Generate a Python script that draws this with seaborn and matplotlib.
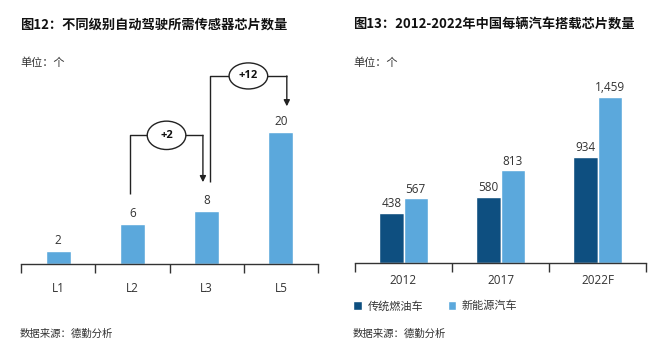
import matplotlib
matplotlib.use("Agg")
import matplotlib.pyplot as plt
from matplotlib.patches import Ellipse
from matplotlib.ticker import FixedLocator
import seaborn as sns
import pandas as pd

# ---- data ----
levels = ["L1", "L2", "L3", "L5"]
sensor_chips = [2, 6, 8, 20]

years = ["2012", "2017", "2022F"]
series_names = ["传统燃油车", "新能源汽车"]
fuel_chips = [438, 580, 934]
nev_chips = [567, 813, 1459]

title_left = "图12：不同级别自动驾驶所需传感器芯片数量"
title_right = "图13：2012-2022年中国每辆汽车搭载芯片数量"
unit_text = "单位：个"
source_text = "数据来源：德勤分析"

DARK = "#0e4f80"
LIGHT = "#5ba8dc"
TXT = "#333333"

sns.set_theme(style="white")
plt.rcParams["font.family"] = ["Open Sans", "Noto Sans CJK SC", "DejaVu Sans"]

W, H = 665, 357
fig = plt.figure(figsize=(W / 100, H / 100), dpi=100)


def px_axes(x0, y0, x1, y1):
    return fig.add_axes([x0 / W, 1 - y1 / H, (x1 - x0) / W, (y1 - y0) / H])


def style_axis(ax, n, pad):
    for s in ["top", "right", "left"]:
        ax.spines[s].set_visible(False)
    ax.spines["bottom"].set_color(TXT)
    ax.spines["bottom"].set_linewidth(1.0)
    ax.set_yticks([])
    ax.set_xlim(-0.5, n - 0.5)
    ax.xaxis.set_minor_locator(FixedLocator([i - 0.5 for i in range(n + 1)]))
    ax.tick_params(axis="x", which="minor", bottom=True, length=6.5, width=1.0,
                   color=TXT, direction="out")
    ax.tick_params(axis="x", which="major", bottom=False, length=0, pad=pad,
                   labelsize=8.5, labelcolor=TXT)
    ax.set_xlabel("")
    ax.set_ylabel("")


# ---- left chart ----
axL = px_axes(21, 70, 318, 264)
dfL = pd.DataFrame({"level": levels, "chips": sensor_chips})
sns.barplot(data=dfL, x="level", y="chips", color=LIGHT, width=0.34,
            saturation=1, ax=axL)
axL.set_ylim(0, 29.4)
style_axis(axL, len(levels), 13)
for c in axL.containers:
    axL.bar_label(c, padding=3, fontsize=8.5, color=TXT)


def bracket(ax, x0, x1, y0, y1, top, ex_w, ex_h, label):
    ax.plot([x0, x0, x1], [y0, top, top], color="#222222", lw=1.0,
            solid_capstyle="butt", clip_on=False)
    ax.annotate("", xy=(x1, y1), xytext=(x1, top),
                arrowprops=dict(arrowstyle="-|>", color="#222222", lw=1.0,
                                mutation_scale=9, shrinkA=0, shrinkB=0),
                annotation_clip=False)
    xc = (x0 + x1) / 2
    ax.add_patch(Ellipse((xc, top), ex_w, ex_h, facecolor="white",
                         edgecolor="#222222", lw=1.0, zorder=5, clip_on=False))
    ax.text(xc, top, label, ha="center", va="center", fontsize=8,
            fontweight="bold", color="#111111", zorder=6)


bracket(axL, 0.97, 1.95, sensor_chips[1] + 4.6, sensor_chips[2] + 4.4, 19.5,
        0.52, 4.3, f"+{sensor_chips[2] - sensor_chips[1]}")
bracket(axL, 2.045, 3.08, sensor_chips[2] + 4.4, sensor_chips[3] + 3.9, 28.5,
        0.52, 3.95, f"+{sensor_chips[3] - sensor_chips[2]}")

# ---- right chart ----
axR = px_axes(355, 70, 646, 263)
dfR = pd.DataFrame({
    "year": years * 2,
    "type": [series_names[0]] * len(years) + [series_names[1]] * len(years),
    "chips": fuel_chips + nev_chips,
})
sns.barplot(data=dfR, x="year", y="chips", hue="type",
            palette=[DARK, LIGHT], width=0.5, gap=0, saturation=1, ax=axR)
axR.set_ylim(0, 1696)
style_axis(axR, len(years), 8)
for c in axR.containers:
    axR.bar_label(c, padding=2, fontsize=8.5, color=TXT,
                  labels=[f"{v:,.0f}" for v in c.datavalues])
axR.get_legend().remove()
handles, labs = axR.get_legend_handles_labels()
fig.legend(handles, labs, loc="center left",
           bbox_to_anchor=(353 / W, 1 - 306 / H), ncol=2, frameon=False,
           handlelength=0.8, handleheight=0.8, handletextpad=0.5,
           columnspacing=2.2,
           prop={"family": ["Noto Sans CJK SC"], "size": 8},
           labelcolor=TXT, borderaxespad=0, borderpad=0)

# ---- texts ----
for x, t in [(20, title_left), (353, title_right)]:
    fig.text(x / W, 1 - 25 / H, t, ha="left", va="center", fontsize=9.5,
             fontweight="bold", color="#111111", family=["Noto Sans CJK SC"])
for x in (20, 353):
    fig.text(x / W, 1 - 63 / H, unit_text, ha="left", va="center", fontsize=8,
             color=TXT, family=["Noto Sans CJK SC"])
    fig.text(x / W, 1 - 334 / H, source_text, ha="left", va="center",
             fontsize=7.5, color=TXT, family=["Noto Sans CJK SC"])

fig.savefig("out.png", dpi=100, facecolor="white")
